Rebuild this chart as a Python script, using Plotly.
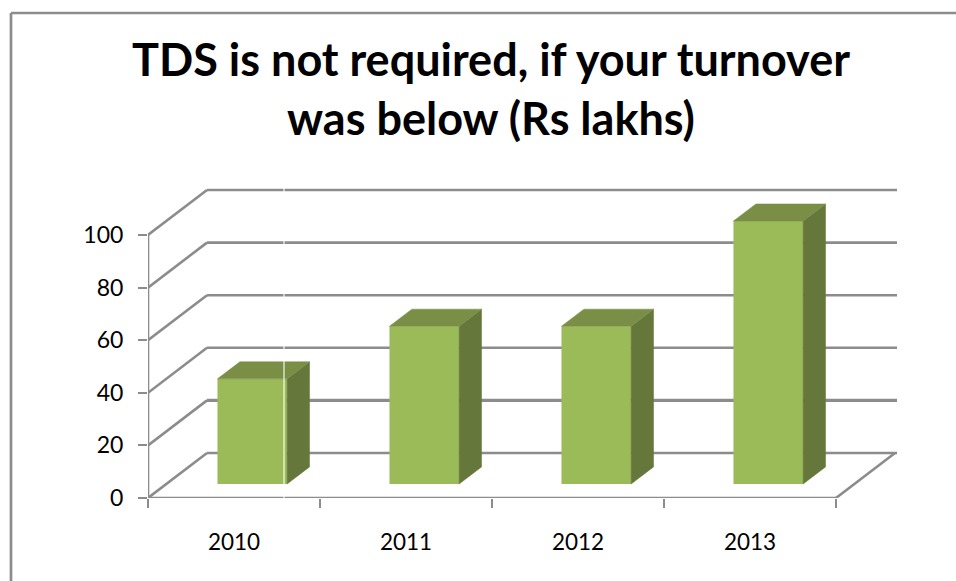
import plotly.graph_objects as go

TITLE = "TDS is not required, if your turnover<br>was below (Rs lakhs)"
years = ["2010", "2011", "2012", "2013"]
limits = [40, 60, 60, 100]
y_ticks = [0, 20, 40, 60, 80, 100]

# projection of the pseudo-3D box, in axis units
DEPTH_X = 59 / 172
DEPTH_Y = 45 / 2.63
BAR_W = 0.405
Z_FRONT = 0.31
Z_BACK = 0.69

GRID = "#8c8c8c"
FRONT = "#9BBB59"
SIDE = "#66773B"
TOP = "#7A8E46"

n = len(years)
cx = [i + 0.5 for i in range(n)]


def project(x, y, z):
    return x + z * DEPTH_X, y + z * DEPTH_Y


fig = go.Figure()

# front faces
fig.add_trace(go.Bar(
    x=[project(c, 0, Z_FRONT)[0] for c in cx],
    y=limits,
    base=[project(c, 0, Z_FRONT)[1] for c in cx],
    width=BAR_W,
    marker=dict(color=FRONT, line=dict(width=0)),
    hoverinfo="skip",
))

# side and top faces
for c, v in zip(cx, limits):
    r = c + BAR_W / 2
    l = c - BAR_W / 2
    side = [project(r, 0, Z_FRONT), project(r, 0, Z_BACK), project(r, v, Z_BACK), project(r, v, Z_FRONT), project(r, 0, Z_FRONT)]
    top = [project(l, v, Z_FRONT), project(r, v, Z_FRONT), project(r, v, Z_BACK), project(l, v, Z_BACK), project(l, v, Z_FRONT)]
    for pts, col in ((side, SIDE), (top, TOP)):
        fig.add_trace(go.Scatter(
            x=[p[0] for p in pts], y=[p[1] for p in pts],
            mode="lines", fill="toself", fillcolor=col,
            line=dict(color=col, width=0.5), hoverinfo="skip",
        ))

# walls and gridlines, behind the bars
shapes = []


def seg(x0, y0, x1, y1, w=2.6, layer="below", col=GRID):
    shapes.append(dict(type="line", xref="x", yref="y", x0=x0, y0=y0, x1=x1, y1=y1,
                       layer=layer, line=dict(color=col, width=w)))


for t in y_ticks:
    bx0, by = project(0, t, 1)
    bx1, _ = project(n, t, 1)
    seg(bx0, by, bx1 + 2 / 172, by, 3.4 if t == 20 else 2.6)
    seg(0, t, bx0, by)
seg(0, 0, 0, y_ticks[-1])
seg(0, 0, n, 0)
seg(n, 0, *project(n, 0, 1))

# pale scan seam through the first bar
seam = (284 - 148) / 172
seg(seam, -0.5, seam, project(0, y_ticks[-1], 1)[1] + 1, 1.1, "above", "#ffffff")

# chart frame, open on the right and at the bottom
W, H = 956, 581
L, R, T, B = 148, 56, 188, 83
PW, PH = W - L - R, H - T - B
fx = (11 - L) / PW
fy = (H - 13 - B) / PH
shapes.append(dict(type="line", xref="paper", yref="paper", x0=fx, y0=fy, x1=(W - L) / PW, y1=fy,
                   line=dict(color=GRID, width=2.7)))
shapes.append(dict(type="line", xref="paper", yref="paper", x0=fx, y0=fy, x1=fx, y1=-B / PH,
                   line=dict(color=GRID, width=2.7)))

FONT = "Lato, Carlito, Calibri, sans-serif"
fig.update_layout(
    width=W, height=H, autosize=False,
    margin=dict(l=L, r=R, t=T, b=B, autoexpand=False),
    paper_bgcolor="white", plot_bgcolor="white",
    showlegend=False, shapes=shapes,
    title=dict(text=TITLE, xref="container", x=491 / W, xanchor="center",
               yref="container", y=1 - 76 / H, yanchor="middle",
               font=dict(family=FONT, size=45, color="black", weight=700)),
    xaxis=dict(range=[0, PW / 172], showgrid=False, zeroline=False, showline=False,
               tickmode="array", tickvals=cx, ticktext=years, ticks="", ticklabelstandoff=28,
               tickfont=dict(family=FONT, size=22.5, color="black"),
               minor=dict(tickmode="array", tickvals=list(range(n + 1)), ticks="outside",
                          ticklen=9, tickwidth=2, tickcolor=GRID)),
    yaxis=dict(range=[0, PH / 2.63], showgrid=False, zeroline=False, showline=False,
               tickmode="array", tickvals=y_ticks, ticks="outside", ticklen=9, tickwidth=2,
               ticklabelstandoff=10,
               tickcolor=GRID, tickfont=dict(family=FONT, size=23, color="black")),
)

fig.write_html("out.html", post_script="document.body.style.margin='0';",
               config={"displayModeBar": False})
